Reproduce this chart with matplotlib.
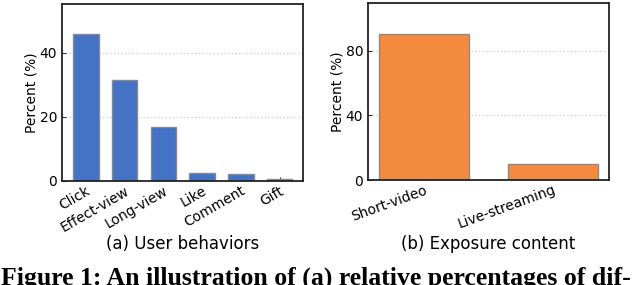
import matplotlib.pyplot as plt

behaviors = ["Click", "Effect-view", "Long-view", "Like", "Comment", "Gift"]
behavior_pct = [46.0, 31.6, 16.9, 2.5, 2.3, 0.5]

contents = ["Short-video", "Live-streaming"]
content_pct = [90.3, 10.0]

fig = plt.figure(figsize=(6.4, 2.85), dpi=100)
ax1 = fig.add_axes([0.097, 0.365, 0.377, 0.621])
ax2 = fig.add_axes([0.575, 0.368, 0.377, 0.621])


def style(ax, ticks, ymax):
    ax.set_ylim(0, ymax)
    ax.set_yticks(ticks)
    ax.yaxis.grid(True, color="#d0d0d0", linestyle=":", linewidth=1)
    ax.set_axisbelow(True)
    ax.tick_params(direction="in", labelsize=10, length=3, color="#333333")
    ax.set_ylabel("Percent (%)", fontsize=10, labelpad=1)
    for s in ax.spines.values():
        s.set_color("#222222")
        s.set_linewidth(1.3)


ax1.bar(range(len(behaviors)), behavior_pct, width=0.66,
        color="#4472C4", edgecolor="#8a8a8a", linewidth=1)
style(ax1, [0, 20, 40], 55.3)
ax1.set_xticks(range(len(behaviors)))
ax1.set_xticklabels(behaviors, rotation=30, ha="right", rotation_mode="anchor")
ax1.tick_params(axis="x", pad=2)

ax2.bar(range(len(contents)), content_pct, width=0.7,
        color="#F38A3E", edgecolor="#8a8a8a", linewidth=1)
style(ax2, [0, 40, 80], 109.5)
ax2.set_xticks(range(len(contents)))
ax2.set_xticklabels(contents, rotation=20, ha="right", rotation_mode="anchor")
ax2.tick_params(axis="x", pad=2)

fig.text(0.285, 0.128, "(a) User behaviors", ha="center", va="baseline", fontsize=12)
fig.text(0.763, 0.128, "(b) Exposure content", ha="center", va="baseline", fontsize=12)
# the figure caption is cropped at the bottom edge, as in the source image
fig.text(0.002, 0.003, "Figure 1: An illustration of (a) relative percentages of dif-",
         ha="left", va="baseline", fontsize=18.5, fontweight="bold",
         family="Liberation Serif")

fig.savefig("out.png", dpi=100)
